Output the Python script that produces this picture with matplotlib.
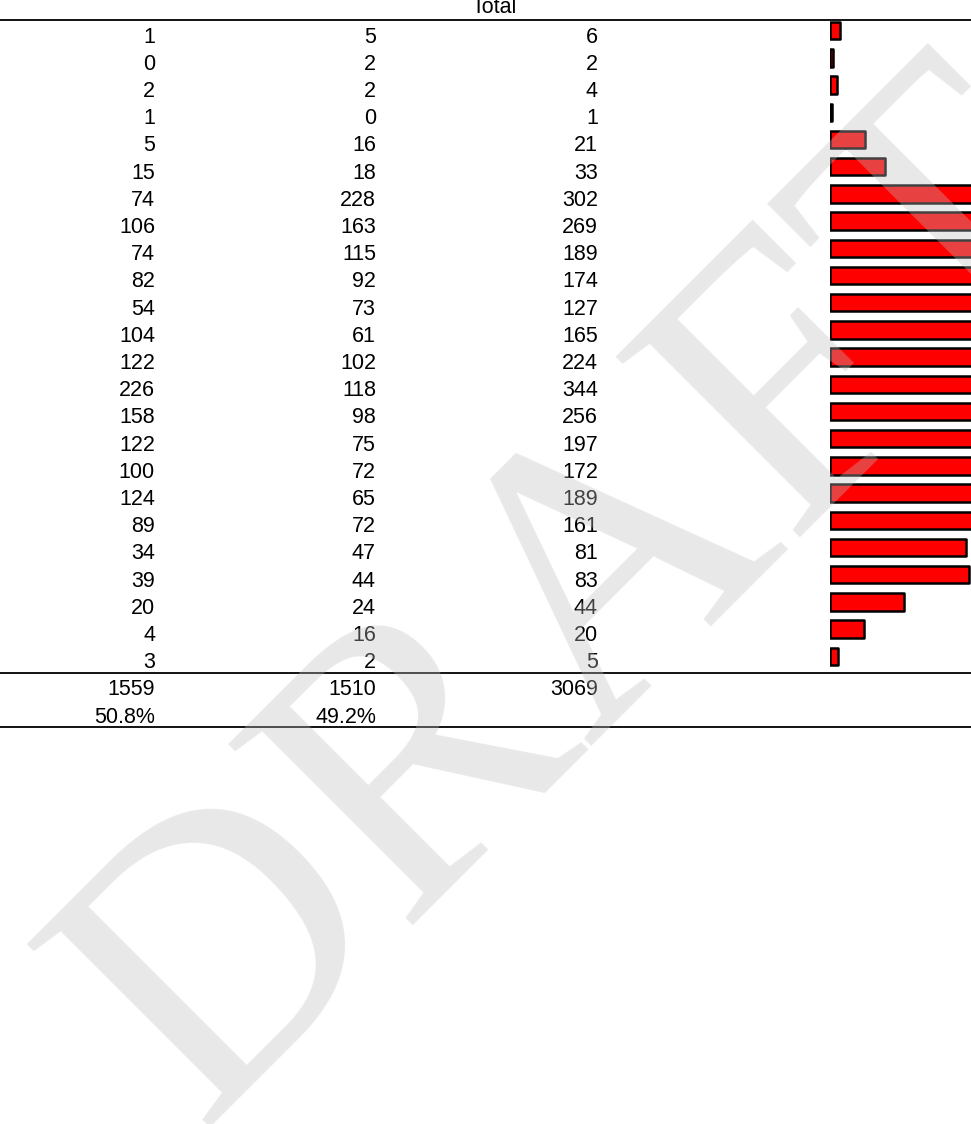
import matplotlib.pyplot as plt
import numpy as np

# counts per row: first group, second group, total
group_a = [1, 0, 2, 1, 5, 15, 74, 106, 74, 82, 54, 104, 122, 226, 158, 122, 100, 124, 89, 34, 39, 20, 4, 3]
group_b = [5, 2, 2, 0, 16, 18, 228, 163, 115, 92, 73, 61, 102, 118, 98, 75, 72, 65, 72, 47, 44, 24, 16, 2]
totals = [6, 2, 4, 1, 21, 33, 302, 269, 189, 174, 127, 165, 224, 344, 256, 197, 172, 189, 161, 81, 83, 44, 20, 5]
header = "Total"

W, H = 971, 1124
row_h = 27.2      # pixels per row
row0 = 30.7       # pixel centre of first row
px_per_unit = 1.68
fs = 15.5

plt.rcParams['font.family'] = ['Liberation Sans', 'DejaVu Sans']

fig = plt.figure(figsize=(W / 100, H / 100), dpi=100)
ylim = ((H - row0) / row_h, -row0 / row_h)

# table part, x in pixels, y in rows
ax = fig.add_axes([0, 0, 1, 1])
ax.set_xlim(0, W)
ax.set_ylim(*ylim)
ax.axis('off')

col_right = [155, 376, 598]
n = len(totals)
rows = np.arange(n)
base = 0.44  # text baseline below row centre

for i in rows:
    for x, v in zip(col_right, (group_a[i], group_b[i], totals[i])):
        ax.text(x, i + base, str(v), ha='right', va='baseline', fontsize=fs)

sum_a, sum_b = sum(group_a), sum(group_b)
sum_t = sum_a + sum_b
for x, v in zip(col_right, (sum_a, sum_b, sum_t)):
    ax.text(x, n + base, str(v), ha='right', va='baseline', fontsize=fs)
ax.text(col_right[0], n + 1 + base, f"{100 * sum_a / sum_t:.1f}%", ha='right', va='baseline', fontsize=fs)
ax.text(col_right[1], n + 1 + base, f"{100 * sum_b / sum_t:.1f}%", ha='right', va='baseline', fontsize=fs)

ax.text(494, -0.66, header, ha='center', va='baseline', fontsize=fs)

for y in (-0.4, n - 0.4, n + 1.6):
    ax.axhline(y, color='black', lw=1.3)

# bar column
bx = fig.add_axes([830 / W, 0, (W - 830) / W, 1])
bx.set_xlim(0, (W - 830) / px_per_unit)
bx.set_ylim(*ylim)
bx.axis('off')
bars = bx.barh(rows, totals, height=0.64, left=0, color='#ff0000',
               edgecolor='black', linewidth=1.8)
for b in bars:
    b.set_joinstyle('round')

# watermark
fig.text(199 / W, 1 - 1128 / H, "DRAFT", ha='left', va='baseline',
         rotation=45, rotation_mode='anchor', fontsize=284,
         family='Liberation Serif', color='#bfbfbf', alpha=0.35, zorder=10)

fig.savefig('out.png', dpi=100)
